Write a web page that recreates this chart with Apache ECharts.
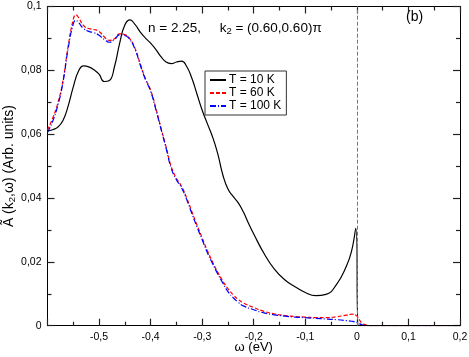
<!DOCTYPE html>
<html>
<head>
<meta charset="utf-8">
<script src="https://cdn.jsdelivr.net/npm/echarts@6/dist/echarts.min.js"></script>
<style>
  html, body { margin: 0; padding: 0; background: #fff; }
  #chart { width: 469px; height: 357px; }
</style>
</head>
<body>
<div id="chart"></div>
<script>
// omega (eV) and spectral weight
var w10 = [-0.60, -0.59, -0.58, -0.57, -0.56, -0.55, -0.54, -0.53, -0.52, -0.51, -0.50, -0.49, -0.48, -0.47, -0.46, -0.45, -0.44, -0.43, -0.42, -0.41, -0.40, -0.39, -0.38, -0.37, -0.36, -0.35, -0.34, -0.33, -0.32, -0.31, -0.30, -0.29, -0.28, -0.27, -0.26, -0.25, -0.24, -0.23, -0.22, -0.21, -0.20, -0.18, -0.16, -0.14, -0.12, -0.10, -0.08, -0.06, -0.04, -0.02, -0.01, -0.002, 0.003, 0.02, 0.1, 0.2];
var a10 = [0.0610, 0.0614, 0.0622, 0.0643, 0.0688, 0.0748, 0.0797, 0.0814, 0.0811, 0.0802, 0.0788, 0.0765, 0.0768, 0.0812, 0.0885, 0.0942, 0.0958, 0.0943, 0.0920, 0.0901, 0.0885, 0.0866, 0.0843, 0.0826, 0.0821, 0.0826, 0.0829, 0.0812, 0.0775, 0.0725, 0.0675, 0.0633, 0.0592, 0.0540, 0.0473, 0.0428, 0.0405, 0.0385, 0.0356, 0.0320, 0.0287, 0.0226, 0.0177, 0.0144, 0.0122, 0.0104, 0.0094, 0.0098, 0.0128, 0.0188, 0.0236, 0.0305, 0.0, 0.0, 0.0, 0.0];

var w60 = [-0.60, -0.59, -0.58, -0.57, -0.56, -0.55, -0.545, -0.54, -0.53, -0.52, -0.51, -0.50, -0.49, -0.48, -0.47, -0.46, -0.45, -0.44, -0.43, -0.42, -0.41, -0.40, -0.39, -0.38, -0.37, -0.36, -0.35, -0.34, -0.33, -0.32, -0.31, -0.30, -0.29, -0.28, -0.27, -0.26, -0.25, -0.24, -0.23, -0.22, -0.20, -0.18, -0.16, -0.14, -0.12, -0.10, -0.08, -0.06, -0.04, -0.02, -0.01, 0.0, 0.01, 0.02, 0.03, 0.2];
var a60 = [0.0613, 0.0650, 0.0697, 0.0768, 0.0875, 0.0960, 0.0974, 0.0966, 0.0940, 0.0931, 0.0928, 0.0922, 0.0905, 0.0894, 0.0899, 0.0914, 0.0912, 0.0898, 0.0868, 0.0820, 0.0774, 0.0738, 0.0682, 0.0620, 0.0560, 0.0498, 0.0462, 0.0436, 0.0400, 0.0357, 0.0315, 0.0275, 0.0235, 0.0200, 0.0168, 0.0140, 0.0116, 0.0097, 0.0082, 0.0071, 0.0057, 0.0045, 0.0037, 0.0032, 0.0029, 0.0027, 0.0025, 0.0025, 0.0028, 0.0033, 0.0036, 0.0030, 0.0008, 0.0002, 0.0, 0.0];

var w100 = [-0.60, -0.59, -0.58, -0.57, -0.56, -0.55, -0.545, -0.54, -0.53, -0.52, -0.51, -0.50, -0.49, -0.48, -0.47, -0.46, -0.45, -0.44, -0.43, -0.42, -0.41, -0.40, -0.39, -0.38, -0.37, -0.36, -0.35, -0.34, -0.33, -0.32, -0.31, -0.30, -0.29, -0.28, -0.27, -0.26, -0.25, -0.24, -0.23, -0.22, -0.20, -0.18, -0.16, -0.14, -0.12, -0.10, -0.08, -0.06, -0.04, -0.02, -0.01, 0.0, 0.01, 0.02, 0.2];
var a100 = [0.0605, 0.0640, 0.0690, 0.0762, 0.0868, 0.0946, 0.0957, 0.0950, 0.0931, 0.0922, 0.0918, 0.0910, 0.0897, 0.0888, 0.0897, 0.0911, 0.0909, 0.0896, 0.0865, 0.0816, 0.0771, 0.0735, 0.0678, 0.0617, 0.0556, 0.0493, 0.0457, 0.0432, 0.0395, 0.0351, 0.0309, 0.0269, 0.0229, 0.0195, 0.0163, 0.0134, 0.0107, 0.0088, 0.0073, 0.0062, 0.0050, 0.0040, 0.0034, 0.0030, 0.0027, 0.0025, 0.0023, 0.0021, 0.0019, 0.0016, 0.0014, 0.0010, 0.0003, 0.0, 0.0];

var seriesNames = ['T = 10 K', 'T = 60 K', 'T = 100 K'];
var xTicks = [-0.6, -0.5, -0.4, -0.3, -0.2, -0.1, 0, 0.1, 0.2];
var yTicks = [0, 0.02, 0.04, 0.06, 0.08, 0.1];

function zip(xs, ys) {
  return xs.map(function (x, i) { return [x, ys[i]]; });
}
function comma(v) {
  var s = String(Number(v.toFixed(2)));
  return s.replace('.', ',');
}

var FONT = 'Liberation Sans, Arial, sans-serif';

// frame axes: black line, inward major + minor ticks
function frame(extra) {
  var ax = {
    type: 'value',
    axisLine: { show: true, onZero: false, lineStyle: { color: '#000', width: 1 } },
    axisTick: { show: true, inside: true, length: 7, lineStyle: { color: '#222', width: 1.2 } },
    minorTick: { show: true, splitNumber: 2, length: 4, lineStyle: { color: '#222', width: 1.2 } },
    splitLine: { show: false },
    axisLabel: { show: false }
  };
  for (var k in extra) ax[k] = extra[k];
  return ax;
}

var chart = echarts.init(document.getElementById('chart'));
chart.setOption({
  animation: false,
  backgroundColor: '#fff',
  textStyle: { fontFamily: FONT },
  grid: { left: 47.5, right: 9, top: 6.5, bottom: 31.3, outerBoundsMode: 'none' },
  legend: {
    data: seriesNames,
    orient: 'vertical',
    left: 205, top: 71,
    itemWidth: 16, itemHeight: 8, itemGap: 1,
    itemStyle: { opacity: 0 },
    borderColor: '#333', borderWidth: 1, borderRadius: 0,
    padding: [3, 5, 3, 4],
    textStyle: { fontSize: 12, color: '#000', fontFamily: FONT, padding: [0, 0, 0, -2] }
  },
  xAxis: [frame({
    min: xTicks[0], max: xTicks[xTicks.length - 1], interval: 0.1,
    axisLabel: {
      show: true, color: '#000', fontSize: 10.5, margin: 6,
      formatter: function (v) { return Math.abs(v - xTicks[0]) < 1e-9 ? '' : comma(v); }
    },
    name: 'ω (eV)', nameLocation: 'middle', nameGap: 15, nameMoveOverlap: false,
    nameTextStyle: { fontSize: 13, color: '#000', verticalAlign: 'top' }
  }), frame({
    position: 'top', min: xTicks[0], max: xTicks[xTicks.length - 1], interval: 0.1
  })],
  yAxis: [frame({
    min: yTicks[0], max: yTicks[yTicks.length - 1], interval: 0.02,
    axisLabel: { show: true, color: '#000', fontSize: 10.5, margin: 6, formatter: comma },
    name: '{a|Ã (k}{s|2}{a|,ω) (Arb. units)}', nameLocation: 'middle', nameGap: 30, nameMoveOverlap: false,
    nameTextStyle: {
      color: '#000',
      rich: {
        a: { fontSize: 14, color: '#000', fontFamily: FONT },
        s: { fontSize: 9.5, color: '#000', fontFamily: FONT, padding: [6, 0, 0, 0] }
      }
    }
  }), frame({
    position: 'right', min: yTicks[0], max: yTicks[yTicks.length - 1], interval: 0.02
  })],
  graphic: [{
    type: 'text', left: 148, top: 21,
    style: {
      text: '{a|n = 2.25,     k}{s|2}{a| = (0.60,0.60)π}',
      rich: {
        a: { fontSize: 13.5, fill: '#000', fontFamily: FONT },
        s: { fontSize: 9.5, fill: '#000', fontFamily: FONT, padding: [6, 0, 0, 0] }
      }
    }
  }, {
    type: 'text', left: 406, top: 10,
    style: { text: '(b)', fontSize: 14, fill: '#000', fontFamily: FONT }
  }],
  series: [{
    name: seriesNames[0], type: 'line', data: zip(w10, a10),
    showSymbol: false, symbol: 'none', smooth: 0.5,
    color: '#000', lineStyle: { color: '#000', width: 1.2 },
    markLine: {
      silent: true, symbol: 'none', label: { show: false },
      lineStyle: { color: '#777', type: [4, 2], width: 1 },
      data: [{ xAxis: 0 }]
    },
    z: 3
  }, {
    name: seriesNames[1], type: 'line', data: zip(w60, a60),
    showSymbol: false, symbol: 'none', smooth: 0.5,
    color: '#ff0000', lineStyle: { color: '#ff0000', width: 1.2, type: [4, 2] },
    z: 2
  }, {
    name: seriesNames[2], type: 'line', data: zip(w100, a100),
    showSymbol: false, symbol: 'none', smooth: 0.5,
    color: '#0000ff', lineStyle: { color: '#0000ff', width: 1.2, type: [6, 2, 1, 2] },
    z: 2
  }]
});
</script>
</body>
</html>
